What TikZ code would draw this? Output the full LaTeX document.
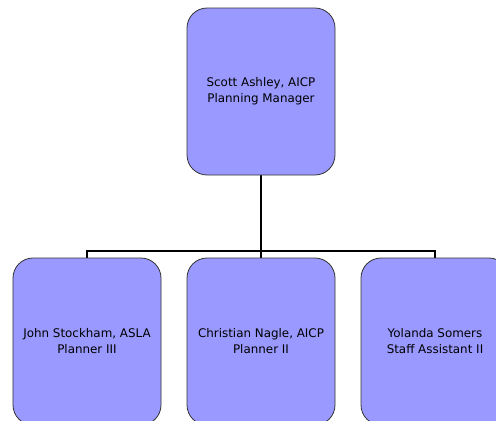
\documentclass[tikz,border=0pt]{standalone}
\usepackage{fontspec}
\setmainfont{DejaVu Sans}
\usepackage{tikz}
\pgfdeclarelayer{background}
\pgfdeclarelayer{foreground}
\pgfsetlayers{background,main,foreground}
\definecolor{boxblue}{RGB}{153,153,255}
\tikzset{
  staffbox/.style={draw=black!80, line width=0.8bp, fill=boxblue, rectangle,
    rounded corners=20bp, minimum width=148bp, minimum height=167bp,
    align=center, inner sep=0pt, font=\fontsize{11.9bp}{16bp}\selectfont},
  orgline/.style={draw=black, line width=2bp}
}

\begin{document}
\begin{tikzpicture}[x=1bp,y=-1bp]
\useasboundingbox (0,0) rectangle (496,420);
\begin{pgfonlayer}{foreground}
\node[staffbox] (manager) at (261,91.5) {Scott Ashley, AICP\\Planning Manager};
\node[staffbox] (planner3) at (87,341.5) {John Stockham, ASLA\\Planner III};
\node[staffbox] (planner2) at (261,341.5) {Christian Nagle, AICP\\Planner II};
\node[staffbox] (assistant) at (435,341.5) {Yolanda Somers\\Staff Assistant II};
\end{pgfonlayer}
\begin{pgfonlayer}{background}
\coordinate (bus) at (261,251);
\draw[orgline] (manager.south) -- (bus);
\draw[orgline] (bus) -| (planner3.north);
\draw[orgline] (bus) -- (planner2.north);
\draw[orgline] (bus) -| (assistant.north);
\end{pgfonlayer}
\end{tikzpicture}
\end{document}
